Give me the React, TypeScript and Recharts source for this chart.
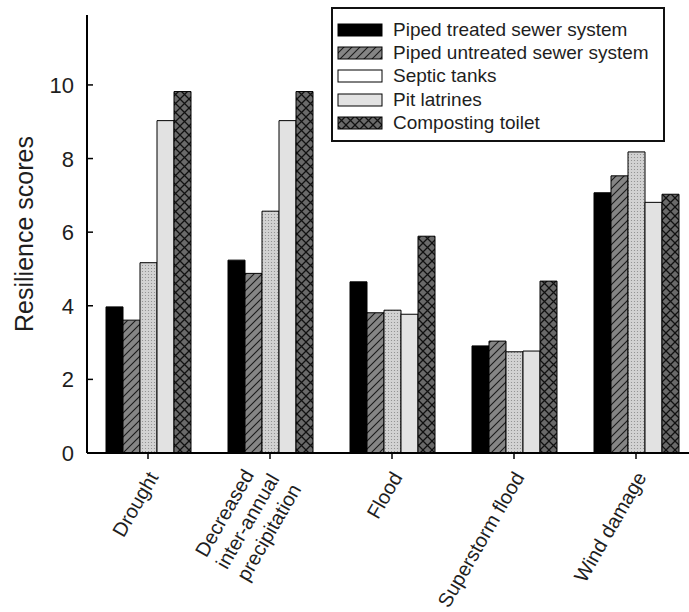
import React from 'react';
import { BarChart, Bar, XAxis, YAxis } from 'recharts';

// categories and scores
const categories = ['Drought', 'Decreased\ninter-annual\nprecipitation', 'Flood', 'Superstorm flood', 'Wind damage'];
const pipedTreated = [3.97, 5.24, 4.65, 2.91, 7.07];
const pipedUntreated = [3.61, 4.88, 3.81, 3.04, 7.53];
const septicTanks = [5.17, 6.57, 3.88, 2.75, 8.18];
const pitLatrines = [9.03, 9.03, 3.77, 2.77, 6.81];
const compostingToilet = [9.82, 9.82, 5.89, 4.67, 7.03];
const seriesNames = ['Piped treated sewer system', 'Piped untreated sewer system', 'Septic tanks', 'Pit latrines', 'Composting toilet'];
const yTicks = [0, 2, 4, 6, 8, 10];

const data = categories.map((c, i) => ({
  name: c,
  treated: pipedTreated[i],
  untreated: pipedUntreated[i],
  septic: septicTanks[i],
  pit: pitLatrines[i],
  compost: compostingToilet[i],
}));

const FONT = '"Liberation Sans", Arial, Helvetica, sans-serif';
const TXT = '#1e1e1e';

const series = [
  { key: 'treated', fill: '#000', swatch: '#000' },
  { key: 'untreated', fill: 'url(#hatch)', swatch: 'url(#hatch)' },
  { key: 'septic', fill: 'url(#dots)', swatch: '#fff' },
  { key: 'pit', fill: '#e2e2e2', swatch: '#e2e2e2' },
  { key: 'compost', fill: 'url(#cross)', swatch: 'url(#cross)' },
];

let ctx: CanvasRenderingContext2D | null = null;
function textWidth(s: string, size: number) {
  if (!ctx) ctx = document.createElement('canvas').getContext('2d');
  if (!ctx) return s.length * size * 0.52;
  ctx.font = `${size}px "Liberation Sans"`;
  return ctx.measureText(s).width;
}

function XTick(props: any) {
  const { x, y, payload } = props;
  const lines = String(payload.value).split('\n');
  const size = 20, lh = 24, ang = -60;
  const r = (ang * Math.PI) / 180;
  const dir = [Math.cos(r), Math.sin(r)];
  const perp = [-Math.sin(r), Math.cos(r)];
  const w = Math.max(...lines.map((l) => textWidth(l, size)));
  const ax = x + 11, ay = y + 16;
  return (
    <g>
      {lines.map((l, i) => {
        const k = (i - (lines.length - 1) / 2) * lh;
        const sx = ax - w * dir[0] + k * perp[0];
        const sy = ay - w * dir[1] + k * perp[1];
        return (
          <text key={i} x={sx} y={sy} transform={`rotate(${ang}, ${sx}, ${sy})`}
            fontSize={size} fontFamily={FONT} fill={TXT} textAnchor="start">{l}</text>
        );
      })}
    </g>
  );
}

// top frame: inward tick marks only, no labels
function TopTick(props: any) {
  const { x, y } = props;
  return <line x1={x} x2={x} y1={y - 9} y2={y - 2} stroke="#000" strokeWidth={1.5} />;
}

function YTick(props: any) {
  const { x, y, payload } = props;
  return (
    <g>
      <line x1={x + 13} x2={x + 19} y1={y} y2={y} stroke="#000" strokeWidth={1.5} />
      <text x={x} y={y} dy={8} textAnchor="end" fontSize={22} fontFamily={FONT} fill={TXT}>{payload.value}</text>
    </g>
  );
}

function YLabel(props: any) {
  const { viewBox } = props;
  const cx = 33, cy = viewBox.y + viewBox.height / 2;
  return (
    <text x={cx} y={cy} transform={`rotate(-90, ${cx}, ${cy})`} textAnchor="middle"
      fontSize={25} fontFamily={FONT} fill={TXT}>Resilience scores</text>
  );
}

function Legend() {
  return (
    <div style={{
      position: 'absolute', left: 331, top: 7, width: 330, height: 122, border: '2px solid #111',
      background: '#fff', boxSizing: 'content-box', paddingTop: 9,
    }}>
      {series.map((s, i) => (
        <div key={s.key} style={{ height: 23.4, display: 'flex', alignItems: 'center' }}>
          <svg width={46} height={14} style={{ marginLeft: 4, display: 'block' }}>
            <rect x={1} y={1} width={44} height={12} fill={s.swatch} stroke="#000" strokeWidth={1} />
          </svg>
          <span style={{ marginLeft: 10, fontSize: 19, fontFamily: FONT, color: TXT, whiteSpace: 'nowrap' }}>
            {seriesNames[i]}
          </span>
        </div>
      ))}
    </div>
  );
}

export default function App() {
  return (
    <div style={{ position: 'absolute', left: 0, top: 0, width: 689, height: 612, overflow: 'hidden', background: '#fff' }}>
      <svg width={0} height={0} style={{ position: 'absolute' }}>
        <defs>
          <pattern id="hatch" patternUnits="userSpaceOnUse" width={8} height={8}>
            <rect width={8} height={8} fill="#858585" />
            <path d="M-1,9 L9,-1 M-3,3 L3,-3 M5,11 L11,5" stroke="#1a1a1a" strokeWidth={1.1} />
          </pattern>
          <pattern id="dots" patternUnits="userSpaceOnUse" width={3} height={3}>
            <rect width={3} height={3} fill="#d2d2d2" />
            <circle cx={1.5} cy={1.5} r={0.6} fill="#8a8a8a" />
          </pattern>
          <pattern id="cross" patternUnits="userSpaceOnUse" width={9} height={9}>
            <rect width={9} height={9} fill="#6a6a6a" />
            <path d="M0,0 L9,9 M9,0 L0,9" stroke="#111" strokeWidth={1.3} />
          </pattern>
        </defs>
      </svg>
      <BarChart width={720} height={612} data={data} margin={{ top: 15, right: 23, bottom: 0, left: 0 }}
        barGap={0} barCategoryGap={18}>
        <XAxis dataKey="name" height={159} interval={0} axisLine={{ stroke: '#000', strokeWidth: 2 }}
          tickLine={{ stroke: '#000', strokeWidth: 1.5 }} tickSize={6} tick={<XTick />} />
        <XAxis xAxisId="top" dataKey="name" orientation="top" height={0} mirror interval={0}
          axisLine={{ stroke: '#000', strokeWidth: 2 }} tickLine={false}
          tickSize={7} tickMargin={2} tick={<TopTick />} />
        <YAxis width={87} domain={[0, 11.9]} ticks={yTicks} interval={0} allowDataOverflow
          axisLine={{ stroke: '#000', strokeWidth: 2 }} tickLine={false} tickSize={0} tickMargin={13}
          tick={<YTick />} label={<YLabel />} />
        {series.map((s) => (
          <Bar key={s.key} dataKey={s.key} fill={s.fill} stroke="#000" strokeWidth={1}
            barSize={17} isAnimationActive={false} />
        ))}
      </BarChart>
      <Legend />
    </div>
  );
}
